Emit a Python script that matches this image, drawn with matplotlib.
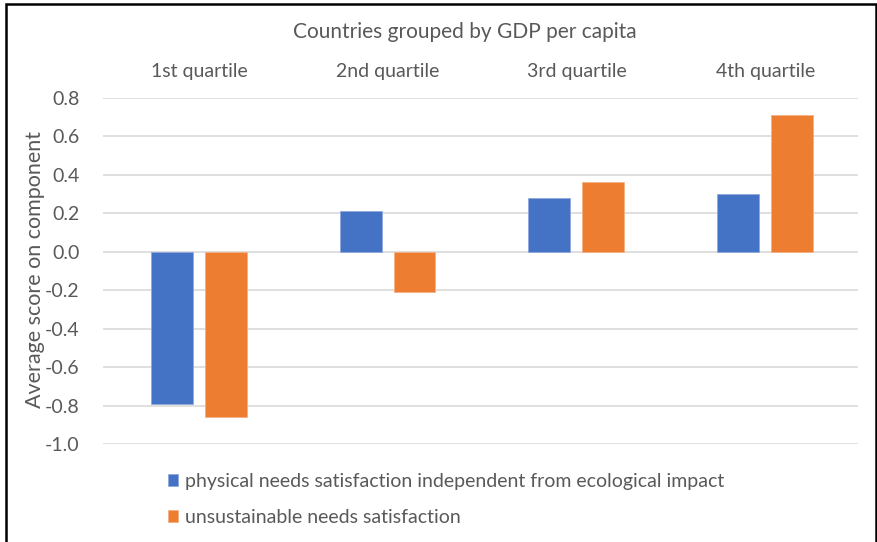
import matplotlib
matplotlib.use('Agg')
import matplotlib.pyplot as plt
from matplotlib.patches import Rectangle
import numpy as np

# Average component scores per GDP-per-capita quartile
quartiles = ['1st quartile', '2nd quartile', '3rd quartile', '4th quartile']
physical = [-0.79, 0.21, 0.28, 0.30]
unsustainable = [-0.86, -0.21, 0.365, 0.71]
series_names = ['physical needs satisfaction independent from ecological impact',
                'unsustainable needs satisfaction']
yticks = [0.8, 0.6, 0.4, 0.2, 0.0, -0.2, -0.4, -0.6, -0.8, -1.0]

blue = '#4472C4'
orange = '#ED7D31'
grey_text = '#595959'

plt.rcParams['font.family'] = ['Lato', 'DejaVu Sans']

fig = plt.figure(figsize=(8.78, 5.42), dpi=100)
ax = fig.add_axes([0.1173, 0.1808, 0.86, 0.6384])

x = np.arange(len(quartiles))
w = 0.222
b1 = ax.bar(x - 0.135, physical, w, color=blue, edgecolor='#8FAADC', linewidth=0.6, zorder=3)
b2 = ax.bar(x + 0.150, unsustainable, w, color=orange, edgecolor='#F4B183', linewidth=0.6, zorder=3)

ax.set_xlim(-0.5, 3.5)
ax.set_ylim(-1.0, 0.8)
ax.set_yticks(yticks)
ax.set_yticklabels([f'{v:.1f}' for v in yticks])
ax.yaxis.grid(True, color='#D9D9D9', linewidth=1.2, zorder=0)
ax.set_xticks([])
for s in ax.spines.values():
    s.set_visible(False)
ax.tick_params(axis='y', length=0, pad=17, labelsize=14, labelcolor=grey_text)

# quartile names sit above the plot area
for i, q in enumerate(quartiles):
    ax.text(i + 0.01, 1.0 + 26 / 346, q, transform=ax.get_xaxis_transform(),
            ha='center', va='center', fontsize=14, color=grey_text)

fig.text(465 / 878, 1 - 32 / 542, 'Countries grouped by GDP per capita',
         ha='center', va='center', fontsize=15, color=grey_text)
fig.text(35 / 878, 1 - 270 / 542, 'Average score on component', rotation=90,
         ha='center', va='center', fontsize=15.5, color=grey_text)

fig.legend([b1, b2], series_names, loc='upper left',
           bbox_to_anchor=(160 / 878, 1 - 465 / 542), frameon=False,
           fontsize=14, labelcolor=grey_text, handlelength=0.55, handleheight=0.55,
           handletextpad=0.35, labelspacing=1.0, borderaxespad=0)

# outer frame
fig.patches.append(Rectangle((6 / 878, -0.05), 870 / 878, 1.05 - 4 / 542,
                             transform=fig.transFigure, fill=False,
                             edgecolor='black', linewidth=1.8))

fig.savefig('out.png', dpi=100)
